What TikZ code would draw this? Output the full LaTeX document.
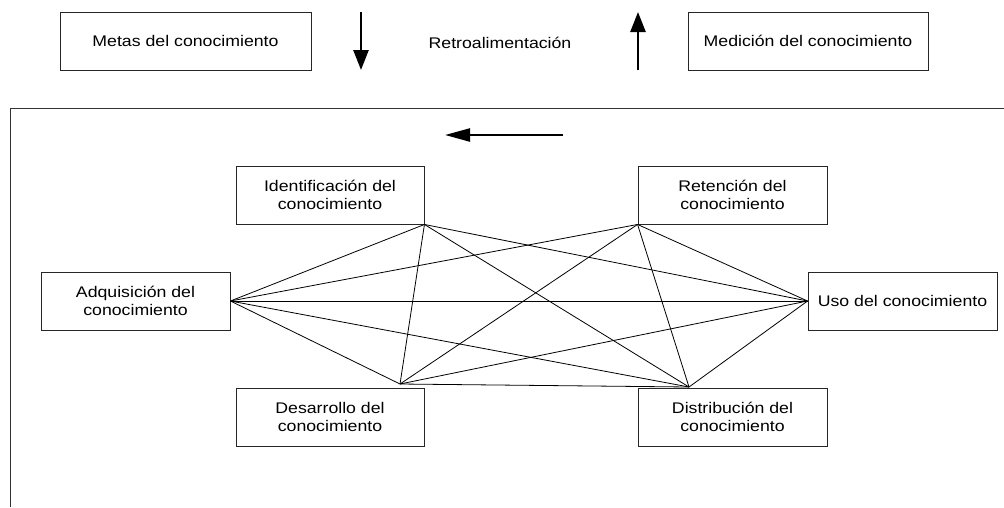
\documentclass[tikz,border=0pt]{standalone}
\usepackage{fontspec}
\setmainfont[FakeStretch=1.15]{Liberation Sans}
\usetikzlibrary{arrows.meta}
\begin{document}
\begin{tikzpicture}[x=1pt,y=-1pt,
  box/.style={draw=black!85, line width=0.9pt, minimum height=58pt,
    inner sep=0pt, align=center, font=\fontsize{15.4}{17.5}\selectfont},
  link/.style={draw=black, line width=0.8pt},
  bigarrow/.style={line width=2.6pt, -{Triangle[length=20pt,width=15pt]}},
  flowarrow/.style={line width=2.4pt, -{Triangle[length=25pt,width=13pt]}}]
\useasboundingbox (0,0) rectangle (1004,507);

% top row: goals, feedback and measurement
\node[box, minimum width=251pt] (metas) at (185.5,41) {Metas del conocimiento};
\node[box, minimum width=240pt] (medicion) at (808,41) {Medición del conocimiento};
\node[font=\fontsize{15.4}{17.5}\selectfont] (retro) at (500,43) {Retroalimentación};
\coordinate (downA) at (361,12);
\coordinate (downB) at (361,70);
\coordinate (upA) at (638,70);
\coordinate (upB) at (638,12);
\draw[bigarrow] (downA) -- (downB);
\draw[bigarrow] (upA) -- (upB);

% open frame around the process
\coordinate (frameBL) at (10,507);
\coordinate (frameTL) at (10,108);
\coordinate (frameTR) at (1004,108);
\draw[draw=black!80, line width=0.9pt] (frameBL) -- (frameTL) -- (frameTR);

% direction arrow
\coordinate (flowA) at (563,135);
\coordinate (flowB) at (445,135);
\draw[flowarrow] (flowA) -- (flowB);

% process building blocks
\node[box, minimum width=188pt] (ident) at (330,195) {Identificación del\\conocimiento};
\node[box, minimum width=189pt] (reten) at (732.5,195) {Retención del\\conocimiento};
\node[box, minimum width=189pt] (adq) at (135.5,301) {Adquisición del\\conocimiento};
\node[box, minimum width=189pt] (uso) at (902.5,301) {Uso del conocimiento};
\node[box, minimum width=188pt] (desa) at (330,417) {Desarrollo del\\conocimiento};
\node[box, minimum width=189pt] (dist) at (732.5,417) {Distribución del\\conocimiento};

% meeting points of the links
\coordinate (pI) at (ident.south east);
\coordinate (pR) at (reten.south west);
\coordinate (pA) at (adq.east);
\coordinate (pU) at (uso.west);
\coordinate (pD) at (400,384);
\coordinate (pT) at (689,387);

% links between the building blocks
\draw[link] (pI) -- (pA);
\draw[link] (pI) -- (pD);
\draw[link] (pI) -- (pT);
\draw[link] (pI) -- (pU);
\draw[link] (pR) -- (pA);
\draw[link] (pR) -- (pD);
\draw[link] (pR) -- (pT);
\draw[link] (pR) -- (pU);
\draw[link] (pA) -- (pU);
\draw[link] (pA) -- (pD);
\draw[link] (pA) -- (pT);
\draw[link] (pU) -- (pD);
\draw[link] (pU) -- (pT);
\draw[link] (pD) -- (pT);
\end{tikzpicture}
\end{document}
